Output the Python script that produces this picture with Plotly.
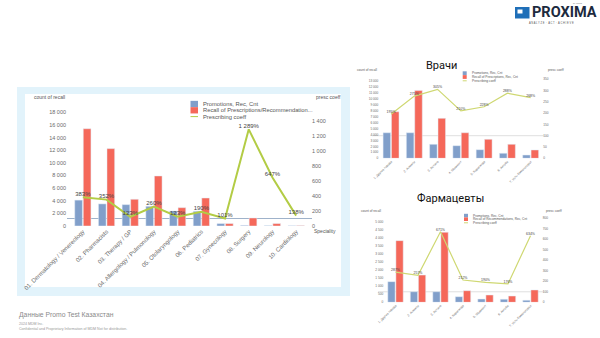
import plotly.graph_objects as go

# ---------------- data ----------------
main_cats = ["01. Dermatology / Venereology", "02. Pharmacists", "03. Therapy / GP",
             "04. Allergology / Pulmonology", "05. Otolaryngology", "06. Pediatrics",
             "07. Gynecology", "08. Surgery", "09. Neurology", "10. Cardiology"]
main_promo = [4100, 3500, 3380, 3120, 2380, 2330, 380, 100, 60, 40]
main_recall = [15400, 12250, 4230, 7920, 2900, 4430, 380, 1270, 380, 60]
main_coeff = [383, 352, 123, 260, 123, 190, 101, 1289, 647, 138]

doc_cats = ["1. Другие города", "2. Алматы", "3. Астана", "4. Шымкент",
            "5. Караганда", "6. Актобе", "7. Усть-Каменогорск"]
doc_promo = [4300, 4300, 2350, 2120, 1450, 840, 550]
doc_recall = [7830, 11430, 6720, 4300, 3190, 2350, 1400]
doc_coeff = [195, 275, 305, 210, 228, 288, 268]

ph_cats = ["1. Другие города", "2. Алматы", "3. Астана", "4. Караганда",
           "5. Шымкент", "6. Актобе", "7. Усть-Каменогорск"]
ph_promo = [1290, 660, 660, 350, 205, 190, 125]
ph_recall = [3850, 1700, 4370, 725, 455, 390, 770]
ph_coeff = [287, 257, 671, 212, 190, 176, 634]

BLUE = "#819fca"
RED = "#f5685a"
GREEN = "#b3cc45"
GREEN2 = "#cfd872"
GREY = "#6b6b6b"
FONT = "Liberation Sans"

W, H = 600, 338


def px(x):
    return x / W


def py(y):
    return 1 - y / H


def pct(v):
    return f"{v:,}%".replace(",", " ")


fig = go.Figure()

# ---------------- main chart ----------------
fig.add_trace(go.Bar(x=main_cats, y=main_promo, marker_color=BLUE, xaxis="x", yaxis="y",
                     name="Promotions, Rec, Cnt", showlegend=False))
fig.add_trace(go.Bar(x=main_cats, y=main_recall, marker_color=RED, xaxis="x", yaxis="y",
                     name="Recall", showlegend=False))
fig.add_trace(go.Scatter(x=main_cats, y=main_coeff, xaxis="x", yaxis="y2", mode="lines+text",
                         line=dict(color=GREEN, width=2), text=[pct(v) for v in main_coeff],
                         textposition="top center", textfont=dict(size=6, color="#444", family=FONT),
                         cliponaxis=False, showlegend=False))

# ---------------- doctors chart ----------------
fig.add_trace(go.Bar(x=doc_cats, y=doc_promo, marker_color=BLUE, xaxis="x2", yaxis="y3", showlegend=False))
fig.add_trace(go.Bar(x=doc_cats, y=doc_recall, marker_color=RED, xaxis="x2", yaxis="y3", showlegend=False))
fig.add_trace(go.Scatter(x=doc_cats, y=doc_coeff, xaxis="x2", yaxis="y4", mode="lines+text",
                         line=dict(color=GREEN2, width=1.2), text=[pct(v) for v in doc_coeff],
                         textposition="top center", textfont=dict(size=3.5, color="#444", family=FONT),
                         cliponaxis=False, showlegend=False))

# ---------------- pharmacists chart ----------------
fig.add_trace(go.Bar(x=ph_cats, y=ph_promo, marker_color=BLUE, xaxis="x3", yaxis="y5", showlegend=False))
fig.add_trace(go.Bar(x=ph_cats, y=ph_recall, marker_color=RED, xaxis="x3", yaxis="y5", showlegend=False))
fig.add_trace(go.Scatter(x=ph_cats, y=ph_coeff, xaxis="x3", yaxis="y6", mode="lines+text",
                         line=dict(color=GREEN2, width=1.2), text=[pct(v) for v in ph_coeff],
                         textposition="top center", textfont=dict(size=3.5, color="#444", family=FONT),
                         cliponaxis=False, showlegend=False))

tick_main = dict(size=5.5, color=GREY, family=FONT)
tick_small = dict(size=3.2, color=GREY, family=FONT)

common_x = dict(type="category", showgrid=False, showline=False, zeroline=False, ticks="", tickangle=-45,
                automargin=False)
common_y = dict(showgrid=False, showline=False, zeroline=False, ticks="", automargin=False)

fig.update_layout(
    width=W, height=H, margin=dict(l=0, r=0, t=0, b=0, pad=0), autosize=False,
    paper_bgcolor="white", plot_bgcolor="rgba(0,0,0,0)",
    barmode="group", bargap=0.28, bargroupgap=0.1,
    separators=". ",
    font=dict(family=FONT),
    xaxis=dict(common_x, domain=[px(71), px(308)], anchor="y", tickfont=dict(size=6, color=GREY, family=FONT)),
    yaxis=dict(common_y, domain=[py(226), py(106)], range=[0, 19000], tickvals=list(range(0, 18001, 2000)),
               tickformat=",d", tickfont=tick_main, anchor="x", ticklabelstandoff=4),
    yaxis2=dict(common_y, overlaying="y", side="right", anchor="x", range=[0, 1600],
                tickvals=list(range(0, 1401, 200)), tickformat=",d", ticksuffix="%", tickfont=tick_main,
                ticklabelstandoff=3),
    xaxis2=dict(common_x, domain=[px(379.4), px(542.3)], anchor="y3", tickfont=tick_small),
    yaxis3=dict(common_y, domain=[py(158.3), py(76)], range=[0, 13850], tickvals=list(range(0, 13001, 1000)),
                tickformat=",d", tickfont=tick_small, anchor="x2"),
    yaxis4=dict(common_y, overlaying="y3", side="right", anchor="x2", range=[0, 364],
                tickvals=list(range(0, 351, 50)), ticksuffix="%", tickfont=tick_small),
    xaxis3=dict(common_x, domain=[px(384.25), px(541.75)], anchor="y5", tickfont=tick_small),
    yaxis5=dict(common_y, domain=[py(302.3), py(215)], range=[0, 5450], tickvals=list(range(0, 5001, 500)),
                tickformat=",d", tickfont=tick_small, anchor="x3"),
    yaxis6=dict(common_y, overlaying="y5", side="right", anchor="x3", range=[0, 831],
                tickvals=list(range(0, 801, 100)), ticksuffix="%", tickfont=tick_small),
)

shapes = []
ann = []

# panel background
shapes.append(dict(type="rect", xref="paper", yref="paper", x0=px(17), x1=px(350), y0=py(296), y1=py(87),
                   fillcolor="#e2f3fb", line=dict(width=0), layer="below"))
shapes.append(dict(type="rect", xref="paper", yref="paper", x0=px(25), x1=px(341), y0=py(287), y1=py(94),
                   fillcolor="white", line=dict(width=0), layer="below"))

# 100% reference lines
shapes.append(dict(type="line", xref="paper", yref="y2", x0=px(67), x1=px(312), y0=100, y1=100,
                   line=dict(color="#9fb2ca", width=1), layer="below"))
shapes.append(dict(type="line", xref="paper", yref="y4", x0=px(372), x1=px(544), y0=100, y1=100,
                   line=dict(color="#d6d6d6", width=0.8), layer="below"))
shapes.append(dict(type="line", xref="paper", yref="y6", x0=px(378), x1=px(544), y0=100, y1=100,
                   line=dict(color="#d6d6d6", width=0.8), layer="below"))


def legend(x, y, dy, sq, size, labels, names):
    for i, (col, kind) in enumerate(labels):
        yc = y + i * dy
        if kind == "sq":
            shapes.append(dict(type="rect", xref="paper", yref="paper", x0=px(x), x1=px(x + sq),
                               y0=py(yc + dy / 2), y1=py(yc - dy / 2), fillcolor=col, line=dict(width=0)))
        else:
            shapes.append(dict(type="line", xref="paper", yref="paper", x0=px(x), x1=px(x + sq),
                               y0=py(yc), y1=py(yc), line=dict(color=col, width=1)))
        ann.append(dict(xref="paper", yref="paper", x=px(x + sq + 3), y=py(yc), text=names[i],
                        showarrow=False, xanchor="left", yanchor="middle",
                        font=dict(size=size, color="#555", family=FONT)))


legend(190.5, 104, 6.3, 7.5, 5.8, [(BLUE, "sq"), (RED, "sq"), (GREEN, "ln")],
       ["Promotions, Rec, Cnt", "Recall of Prescriptions/Recommendation...", "Prescribing coeff"])
legend(462.7, 73.2, 3.8, 4, 3.2, [(BLUE, "sq"), (RED, "sq"), (GREEN2, "ln")],
       ["Promotions, Rec, Cnt", "Recall of Prescriptions, Rec, Cnt", "Prescribing coeff"])
legend(464, 215.6, 3.6, 4, 3.2, [(BLUE, "sq"), (RED, "sq"), (GREEN2, "ln")],
       ["Promotions, Rec, Cnt", "Recall of Recommendations, Rec, Cnt", "Prescribing coeff"])


def text(x, y, s, size, color="#555", anchor="left", bold=False, family=FONT):
    ann.append(dict(xref="paper", yref="paper", x=px(x), y=py(y), text=(f"<b>{s}</b>" if bold else s),
                    showarrow=False, xanchor=anchor, yanchor="middle",
                    font=dict(size=size, color=color, family=family)))


# axis titles
text(32, 97, "count of recall", 5)
text(314, 97, "presc coeff", 5)
text(312, 230.5, "Speciality", 5)
text(355, 70, "count of recall", 3.2)
text(546, 70, "presc coeff", 3.2)
text(359, 210.7, "count of recall", 3.2)
text(544, 210.7, "presc coeff", 3.2)

# chart titles
text(441.5, 65.5, "Врачи", 11, color="#111", anchor="center", family="Roboto")
text(450, 198.5, "Фармацевты", 11, color="#111", anchor="center", family="Roboto")

# footer
text(17, 315, "Данные Promo Test Казахстан", 6.8, color="#8a8a8a")
text(17, 324, "2024 MDM Inc.", 3.6, color="#999")
text(17, 329, "Confidential and Proprietary Information of MDM Not for distribution.", 3.6, color="#999")

# logo
shapes.append(dict(type="rect", xref="paper", yref="paper", x0=px(515), x1=px(529.5), y0=py(18.5), y1=py(7),
                   fillcolor="#1f6fb8", line=dict(width=0)))
shapes.append(dict(type="rect", xref="paper", yref="paper", x0=px(517.5), x1=px(522.5), y0=py(13.5), y1=py(9.5),
                   fillcolor="white", line=dict(width=0)))
text(530, 13, "PROXIMA", 14.5, color="#1c2a3e", bold=True, family="Roboto")
text(551.5, 23, "A N A L Y Z E  ·  A C T  ·  A C H I E V E", 2.6, color="#555", anchor="center")
text(578, 3.5, "by Ipsos", 2.4, color="#777", anchor="center")

fig.update_layout(shapes=shapes, annotations=ann)
fig.write_html("out.html")
